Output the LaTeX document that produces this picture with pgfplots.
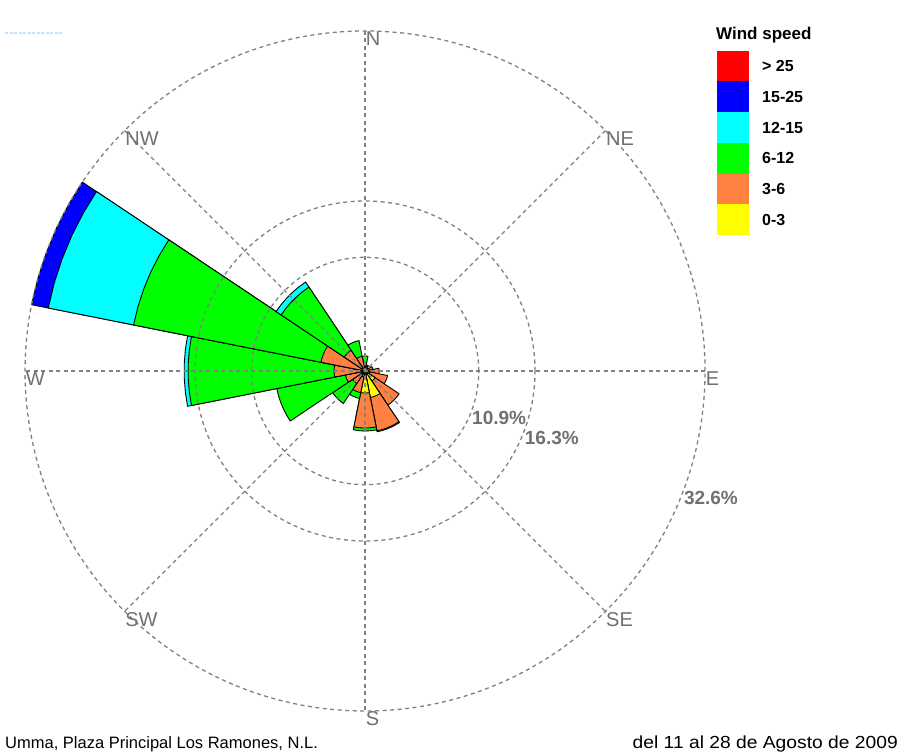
\documentclass[border=0pt]{standalone}
\usepackage{pgfplots}
\usepackage{pgfplotstable}
\pgfplotsset{compat=1.18}
\usepackage{fontspec}
\setmainfont{Liberation Sans}
\definecolor{wsRed}{RGB}{255,0,0}
\definecolor{wsBlue}{RGB}{0,0,255}
\definecolor{wsCyan}{RGB}{0,255,255}
\definecolor{wsGreen}{RGB}{0,255,0}
\definecolor{wsOrange}{RGB}{255,128,64}
\definecolor{wsYellow}{RGB}{255,255,0}
\definecolor{gridgray}{RGB}{128,128,128}
\definecolor{labgray}{RGB}{112,112,112}
\definecolor{smudge}{RGB}{200,225,250}

% frequency (%) of each speed class per direction (compass degrees)
\pgfplotstableread{
dir   c03  c36  c612  c1215 c1525 c25
0     0.19 0.58 0.67  0     0     0
22.5  0.19 0.29 0.10  0     0     0
45    0.19 0.19 0     0     0     0
67.5  0.19 0.58 0     0     0     0
90    0.29 1.06 0     0     0     0
112.5 0.48 1.72 0     0     0     0
135   1.15 2.78 0     0     0     0
157.5 2.59 3.26 0.09  0     0     0
180   2.11 3.36 0.28  0     0     0
202.5 0.58 1.53 0.57  0     0     0
225   0.29 1.15 2.30  0     0     0
247.5 0.19 1.73 6.71  0     0     0
270   0.19 2.78 14.00 0.38  0     0
292.5 0.19 4.12 18.32 8.34  1.63  0
315   0.19 2.21 7.28  0.58  0     0
337.5 0.19 1.25 1.53  0     0     0
}\rosedata

\newcommand\roseWedge[3]{%
  \pgfmathsetmacro\rwA{90-#1-11.25}%
  \pgfmathsetmacro\rwB{\rwA+4.5}%
  \pgfmathsetmacro\rwC{\rwA+9}%
  \pgfmathsetmacro\rwD{\rwA+13.5}%
  \pgfmathsetmacro\rwE{\rwA+18}%
  \pgfmathsetmacro\rwF{\rwA+22.5}%
  \edef\rwTmp{\noexpand\addplot[data cs=polar, fill=#3, draw=black, line width=0.9pt, line join=round]
    coordinates {(0,0) (\rwA,#2) (\rwB,#2) (\rwC,#2) (\rwD,#2) (\rwE,#2) (\rwF,#2)} -- cycle;}%
  \rwTmp}

\newcommand\rose[7]{%
  \pgfmathsetmacro\cA{#2}%
  \pgfmathsetmacro\cB{\cA+#3}%
  \pgfmathsetmacro\cC{\cB+#4}%
  \pgfmathsetmacro\cD{\cC+#5}%
  \pgfmathsetmacro\cE{\cD+#6}%
  \pgfmathsetmacro\cF{\cE+#7}%
  \ifdim #7pt>0pt \roseWedge{#1}{\cF}{wsRed}\fi
  \ifdim #6pt>0pt \roseWedge{#1}{\cE}{wsBlue}\fi
  \ifdim #5pt>0pt \roseWedge{#1}{\cD}{wsCyan}\fi
  \ifdim #4pt>0pt \roseWedge{#1}{\cC}{wsGreen}\fi
  \ifdim #3pt>0pt \roseWedge{#1}{\cB}{wsOrange}\fi
  \ifdim #2pt>0pt \roseWedge{#1}{\cA}{wsYellow}\fi
}

\begin{document}
\begin{tikzpicture}
\begin{axis}[
  x=10.43pt, y=10.43pt,
  xmin=-35, xmax=51.48, ymin=-36.82, ymax=35.57,
  hide axis, clip=false, enlargelimits=false]
  \path (axis cs:-35,-36.82) rectangle (axis cs:51.48,35.57);
  \pgfplotsinvokeforeach{0,...,15}{%
    \pgfplotstablegetelem{#1}{dir}\of\rosedata \let\rD\pgfplotsretval
    \pgfplotstablegetelem{#1}{c03}\of\rosedata \let\rY\pgfplotsretval
    \pgfplotstablegetelem{#1}{c36}\of\rosedata \let\rO\pgfplotsretval
    \pgfplotstablegetelem{#1}{c612}\of\rosedata \let\rG\pgfplotsretval
    \pgfplotstablegetelem{#1}{c1215}\of\rosedata \let\rC\pgfplotsretval
    \pgfplotstablegetelem{#1}{c1525}\of\rosedata \let\rB\pgfplotsretval
    \pgfplotstablegetelem{#1}{c25}\of\rosedata \let\rR\pgfplotsretval
    \rose{\rD}{\rY}{\rO}{\rG}{\rC}{\rB}{\rR}
  }
  \coordinate (O) at (axis cs:0,0);
  \coordinate (TL) at (axis cs:-35,35.57);
\end{axis}

% grid on top of the bars
\begin{scope}[gridgray, line width=1.3pt, dash pattern=on 4pt off 3.5pt]
  \draw (O) circle[radius=113.7pt];
  \draw (O) circle[radius=170pt];
  \draw (O) circle[radius=340pt];
  \draw ([shift={(0:340pt)}]O) -- ([shift={(180:340pt)}]O);
  \draw ([shift={(90:340pt)}]O) -- ([shift={(270:340pt)}]O);
  \draw ([shift={(45:340pt)}]O) -- ([shift={(225:340pt)}]O);
  \draw ([shift={(135:340pt)}]O) -- ([shift={(315:340pt)}]O);
\end{scope}

% direction labels
\begin{scope}[every node/.style={anchor=north west, inner sep=0.5pt, text=labgray, font=\fontsize{20}{22}\selectfont}]
  \node at ([shift={(90:340pt)}]O) {N};
  \node at ([shift={(45:340pt)}]O) {NE};
  \node at ([shift={(0:340pt)}]O) {E};
  \node at ([shift={(-45:340pt)}]O) {SE};
  \node at ([shift={(-90:340pt)}]O) {S};
  \node at ([shift={(-135:340pt)}]O) {SW};
  \node at ([shift={(180:340pt)}]O) {W};
  \node at ([shift={(135:340pt)}]O) {NW};
\end{scope}

% ring labels
\begin{scope}[every node/.style={anchor=north west, inner sep=0.5pt, text=labgray, font=\fontsize{19}{21}\selectfont\bfseries}]
  \node at ([shift={(-20.6:113.7pt)}]O) {10.9\%};
  \node at ([shift={(-20.6:170pt)}]O) {16.3\%};
  \node at ([shift={(-20.6:340pt)}]O) {32.6\%};
\end{scope}

% legend and footer (pixel coordinates from top-left)
\begin{scope}[shift={(TL)}, x=1pt, y=-1pt]
  \node[anchor=base west, inner sep=0pt, font=\fontsize{17}{19}\selectfont\bfseries] at (716,39.5) {Wind speed};
  \fill[wsRed]    (717,51)    rectangle (749,81.5);
  \fill[wsBlue]   (717,81.5)  rectangle (749,112.2);
  \fill[wsCyan]   (717,112.2) rectangle (749,143);
  \fill[wsGreen]  (717,143)   rectangle (749,173.8);
  \fill[wsOrange] (717,173.8) rectangle (749,204.5);
  \fill[wsYellow] (717,204.5) rectangle (749,235);
  \begin{scope}[every node/.style={anchor=west, inner sep=0pt, font=\fontsize{16}{18}\selectfont\bfseries}]
    \node at (762,66.2) {> 25};
    \node at (762,96.8) {15-25};
    \node at (762,127.6) {12-15};
    \node at (762,158.4) {6-12};
    \node at (762,189.2) {3-6};
    \node at (762,219.8) {0-3};
  \end{scope}
  \draw[smudge, line width=1.2pt, dash pattern=on 3pt off 1.5pt] (5,33) -- (62,33);
  \node[anchor=base west, inner sep=0pt, font=\fontsize{16.5}{18}\selectfont] at (5,748) {Umma, Plaza Principal Los Ramones, N.L.};
  \node[anchor=base east, inner sep=0pt, xscale=1.1, font=\fontsize{17.5}{19}\selectfont] at (898,748) {del 11 al 28 de Agosto de 2009};
\end{scope}
\end{tikzpicture}
\end{document}
